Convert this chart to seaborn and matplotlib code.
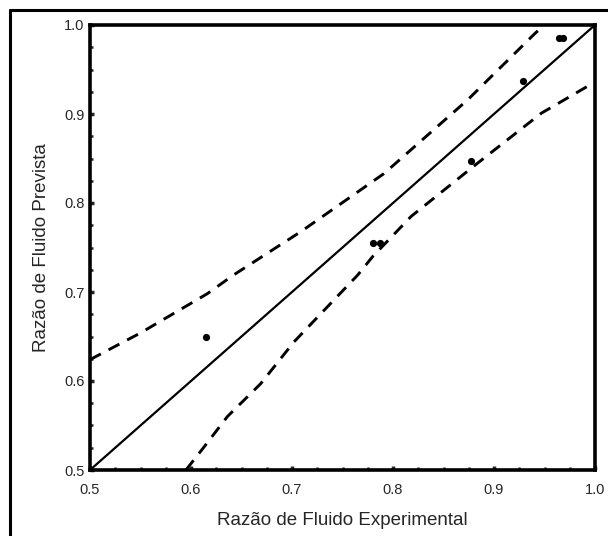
import matplotlib
matplotlib.use("Agg")
import matplotlib.pyplot as plt
from matplotlib.lines import Line2D
from matplotlib.ticker import MultipleLocator
import numpy as np
import pandas as pd
import seaborn as sns

# measured points (experimental vs predicted fluid ratio)
exp_ratio = [0.615, 0.780, 0.787, 0.877, 0.929, 0.964, 0.968]
pred_ratio = [0.649, 0.755, 0.755, 0.847, 0.937, 0.985, 0.985]

# upper and lower dashed bands
upper_x = [0.500, 0.550, 0.616, 0.642, 0.709, 0.791, 0.874, 0.941, 0.950]
upper_y = [0.624, 0.654, 0.698, 0.719, 0.768, 0.833, 0.916, 0.991, 1.000]
lower_x = [0.595, 0.613, 0.636, 0.669, 0.702, 0.765, 0.780, 0.818, 0.884, 0.947, 1.000]
lower_y = [0.500, 0.526, 0.560, 0.597, 0.644, 0.719, 0.740, 0.785, 0.845, 0.901, 0.936]

# identity line
ident = [0.5, 1.0]

ticks = [0.5, 0.6, 0.7, 0.8, 0.9, 1.0]

sns.set_style("ticks")
plt.rcParams['font.family'] = ['Liberation Sans', 'DejaVu Sans']

fig = plt.figure(figsize=(6.08, 5.36), dpi=100)
ax = fig.add_axes([90/608, 1 - 470/536, 505/608, 445/536])

pts = pd.DataFrame({'x': exp_ratio, 'y': pred_ratio})
up = pd.DataFrame({'x': upper_x, 'y': upper_y})
lo = pd.DataFrame({'x': lower_x, 'y': lower_y})

sns.lineplot(x=ident, y=ident, ax=ax, color='black', linewidth=1.6)
for band in (up, lo):
    sns.lineplot(data=band, x='x', y='y', ax=ax, sort=False, color='black',
                 linewidth=2.1, dashes=False)
    ax.lines[-1].set_dashes((4.2, 3.0))
sns.scatterplot(data=pts, x='x', y='y', ax=ax, color='black', s=27,
                edgecolor='black', linewidth=0, zorder=5)

ax.set_xlim(0.5, 1.0)
ax.set_ylim(0.5, 1.0)
ax.set_xticks(ticks)
ax.set_yticks(ticks)
ax.set_xticklabels([f"{t:.1f}" for t in ticks])
ax.set_yticklabels([f"{t:.1f}" for t in ticks])
ax.xaxis.set_minor_locator(MultipleLocator(0.025))
ax.yaxis.set_minor_locator(MultipleLocator(0.025))
ax.tick_params(which='major', direction='in', length=3, width=2.5, labelsize=10.5,
               top=False, right=False)
ax.tick_params(axis='x', which='major', pad=9)
ax.tick_params(axis='y', which='major', pad=4)
ax.tick_params(which='minor', direction='in', length=2.5, width=1.8,
               top=False, right=False)

for sp in ax.spines.values():
    sp.set_visible(True)
    sp.set_linewidth(2.6)
    sp.set_color('black')

ax.set_xlabel('Razão de Fluido Experimental', fontsize=13.5, labelpad=11)
ax.set_ylabel('Razão de Fluido Prevista', fontsize=13.5, labelpad=10)

# outer frame (only top and left edges fall inside the picture)
fx = 10/608
fy = 1 - 10/536
fig.add_artist(Line2D([fx, fx], [0, fy], color='black', linewidth=2.2))
fig.add_artist(Line2D([fx, 1], [fy, fy], color='black', linewidth=2.2))

fig.savefig('out.png', dpi=100, facecolor='white')
